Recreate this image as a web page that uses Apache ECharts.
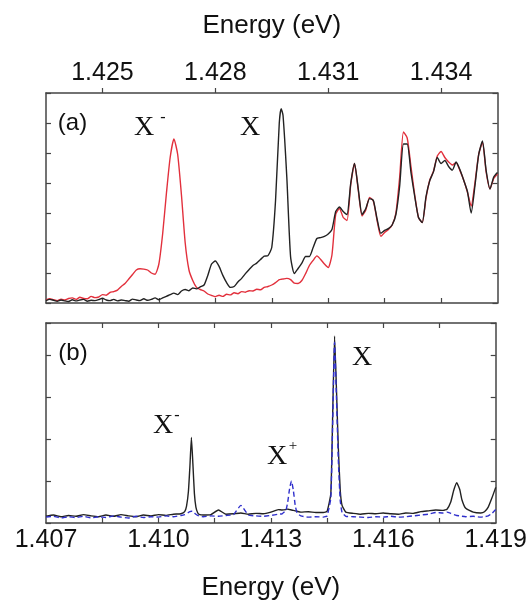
<!DOCTYPE html>
<html>
<head>
<meta charset="utf-8">
<script src="https://cdn.jsdelivr.net/npm/echarts@6/dist/echarts.min.js"></script>
<style>
  html, body { margin: 0; padding: 0; background: #ffffff; }
  #chart { width: 530px; height: 602px; }
</style>
</head>
<body>
<div id="chart"></div>
<script>
// Panel (a): photoluminescence excitation spectra, energy in eV (top axis)
const energyA = [
  1.4235,1.4236,1.4237,1.4238,1.4239,
  1.4240,1.4241,1.4242,1.4243,1.4244,1.4245,1.4246,1.4247,1.4248,1.4249,
  1.4250,1.4251,1.4252,1.4253,1.4254,1.4255,1.4256,1.4257,1.4258,1.4259,
  1.4260,1.4261,1.4262,1.4263,1.4264,1.4265,1.4266,1.4267,1.4268,1.4269,
  1.4270,1.4271,1.4272,1.4273,1.4274,1.4275,1.4276,1.4277,1.4278,1.4279,
  1.4280,1.4281,1.4282,1.4283,1.4284,1.4285,1.4286,1.4287,1.4288,1.4289,
  1.4290,1.4291,1.4292,1.4293,1.4294,1.4295,1.4296,1.4297,1.42975,1.4298,1.4299,
  1.4300,1.4301,1.4302,1.4303,1.4304,1.4305,1.4306,1.4307,1.4308,1.4309,
  1.4310,1.4311,1.4312,1.4313,1.4314,1.4315,1.4316,1.4317,1.4318,1.4319,
  1.4320,1.4321,1.4322,1.4323,1.4324,1.4325,1.4326,1.4327,1.4328,1.4329,
  1.4330,1.4331,1.4332,1.4333,1.4334,1.4335,1.4336,1.4337,1.4338,1.4339,
  1.4340,1.4341,1.4342,1.4343,1.4344,1.4345,1.4346,1.4347,1.4348,1.4349,
  1.4350,1.4351,1.4352,1.4353,1.4354,1.4355
];
const blackA = [
  0.08,0.12,0.09,0.06,0.10,
  0.07,0.05,0.11,0.07,0.10,0.12,0.06,0.09,0.08,0.11,
  0.16,0.10,0.08,0.12,0.07,0.10,0.08,0.06,0.13,0.10,
  0.08,0.14,0.09,0.12,0.17,0.11,0.17,0.22,0.28,0.33,
  0.28,0.40,0.45,0.41,0.50,0.47,0.54,0.60,0.92,1.30,
  1.40,1.22,0.92,0.68,0.52,0.55,0.70,0.82,0.98,1.12,
  1.25,1.33,1.45,1.56,1.58,1.85,3.40,6.00,6.48,6.25,4.20,
  1.55,0.98,1.15,1.33,1.55,1.55,1.85,2.15,2.18,2.22,
  2.30,2.45,3.05,3.20,3.05,2.95,4.00,4.65,3.80,2.95,
  3.15,3.48,3.42,2.80,2.32,2.42,2.48,2.60,2.95,3.90,
  5.30,5.30,4.35,3.55,2.85,2.68,3.55,4.08,4.38,4.85,
  4.65,4.75,4.55,4.43,4.70,4.45,4.10,3.72,3.00,3.90,
  4.95,5.40,4.40,3.80,4.20,4.35
];
const redA = [
  0.10,0.14,0.11,0.08,0.13,
  0.10,0.15,0.17,0.12,0.19,0.15,0.14,0.22,0.18,0.20,
  0.28,0.26,0.35,0.38,0.43,0.55,0.65,0.80,0.95,1.10,
  1.14,1.13,1.10,1.00,0.96,1.30,2.30,3.65,4.85,5.47,
  4.95,3.60,2.00,1.10,0.75,0.52,0.45,0.40,0.30,0.25,
  0.21,0.26,0.22,0.29,0.27,0.34,0.31,0.38,0.36,0.41,
  0.40,0.46,0.44,0.52,0.55,0.60,0.68,0.78,0.79,0.80,0.82,
  0.78,0.66,0.65,0.75,0.98,1.25,1.42,1.57,1.45,1.30,
  1.18,1.60,2.95,3.15,2.85,2.75,3.95,4.65,3.75,2.90,
  3.10,3.52,3.40,2.75,2.22,2.35,2.45,2.60,3.00,4.20,
  5.70,5.50,4.55,3.60,2.85,2.68,3.50,4.10,4.40,4.90,
  5.05,4.85,4.70,4.60,4.68,4.42,4.10,3.70,3.23,4.00,
  4.95,5.35,4.35,3.80,4.15,4.30
];

// Panel (b): photoluminescence spectra, energy in eV (bottom axis)
const energyB = [
  1.4070,1.4072,1.4074,1.4076,1.4078,1.4080,1.4082,1.4084,1.4086,1.4088,
  1.4090,1.4092,1.4094,1.4096,1.4098,1.4100,1.4102,1.4104,1.4106,1.4107,
  1.41075,1.4108,1.41084,1.41088,1.41092,1.41096,1.4110,1.41105,1.4111,1.4112,
  1.4114,1.4116,1.4118,1.4120,1.4122,1.4124,1.4126,1.4128,1.4130,1.4132,
  1.4133,1.4134,1.41345,1.4135,1.41355,1.4136,1.41365,1.4137,1.4138,1.4140,
  1.4142,1.4144,1.4145,1.4146,1.41465,1.4147,1.41475,1.4148,1.41485,1.4149,
  1.4150,1.4152,1.4154,1.4156,1.4158,1.4160,1.4162,1.4164,1.4166,1.4168,
  1.4170,1.4172,1.4174,1.4176,1.4177,1.4178,1.41788,1.41796,1.41804,1.4181,
  1.4182,1.4184,1.4186,1.4187,1.4188,1.4189,1.4190
];
const blackB = [
  0.16,0.19,0.15,0.18,0.16,0.20,0.17,0.15,0.19,0.16,
  0.20,0.17,0.15,0.19,0.17,0.20,0.18,0.21,0.22,0.27,
  0.40,0.75,1.35,2.04,1.40,0.70,0.38,0.24,0.20,0.19,
  0.20,0.31,0.21,0.22,0.24,0.21,0.23,0.22,0.26,0.32,
  0.31,0.32,0.33,0.32,0.31,0.30,0.29,0.28,0.26,0.27,
  0.25,0.25,0.28,0.70,2.60,4.46,3.20,1.80,0.80,0.42,
  0.26,0.23,0.21,0.23,0.22,0.24,0.22,0.21,0.24,0.23,
  0.27,0.29,0.31,0.30,0.33,0.50,0.78,0.96,0.80,0.55,
  0.35,0.26,0.24,0.27,0.38,0.60,0.85
];
const blueB = [
  0.14,0.16,0.12,0.15,0.13,0.16,0.12,0.15,0.13,0.17,
  0.14,0.12,0.16,0.13,0.15,0.14,0.17,0.15,0.18,0.20,
  0.22,0.25,0.27,0.28,0.27,0.24,0.21,0.18,0.16,0.15,
  0.17,0.16,0.18,0.20,0.42,0.19,0.17,0.16,0.18,0.21,
  0.22,0.30,0.50,0.82,1.00,0.78,0.42,0.24,0.17,0.14,
  0.15,0.14,0.17,0.60,2.40,4.31,3.00,1.50,0.55,0.25,
  0.16,0.15,0.14,0.13,0.15,0.14,0.16,0.14,0.15,0.17,
  0.19,0.21,0.25,0.24,0.26,0.23,0.20,0.18,0.17,0.16,
  0.15,0.16,0.14,0.15,0.17,0.23,0.32
];

// Tick positions and labels
const topLabelsA = [1.425, 1.428, 1.431, 1.434];
const minorTicksA = [1.425, 1.4265, 1.428, 1.4295, 1.431, 1.4325, 1.434];
const bottomLabelsB = [1.407, 1.410, 1.413, 1.416, 1.419];
const minorTicksB = [1.4085, 1.410, 1.4115, 1.413, 1.4145, 1.416, 1.4175];

const frame = { show: true, onZero: false, lineStyle: { color: '#444444', width: 1.5 } };
const tickStyle = { color: '#444444', width: 1.2 };
const sans = '"Liberation Sans", Arial, sans-serif';
const serif = '"Liberation Serif", "Times New Roman", serif';

function pairs(xs, ys) { return xs.map((x, i) => [x, ys[i]]); }

const chart = echarts.init(document.getElementById('chart'), null, { renderer: 'canvas' });

chart.setOption({
  animation: false,
  backgroundColor: '#ffffff',
  grid: [
    { left: 46, top: 93, width: 451.5, height: 210 },
    { left: 46, top: 323, width: 451.5, height: 207 }
  ],
  xAxis: [
    {
      gridIndex: 0, type: 'value', position: 'top', min: 1.4235, max: 1.4355,
      axisLine: frame,
      axisTick: { show: true, inside: false, length: 5, customValues: topLabelsA, lineStyle: tickStyle },
      axisLabel: { show: true, customValues: topLabelsA, formatter: v => v.toFixed(3),
                   fontFamily: sans, fontSize: 25, color: '#111111', margin: 7 },
      splitLine: { show: false },
      name: 'Energy (eV)', nameLocation: 'middle', nameGap: 54,
      nameTextStyle: { fontFamily: sans, fontSize: 26, color: '#111111' }
    },
    {
      gridIndex: 0, type: 'value', position: 'bottom', min: 1.4235, max: 1.4355,
      axisLine: frame,
      axisTick: { show: true, inside: true, length: 5, customValues: minorTicksA, lineStyle: tickStyle },
      axisLabel: { show: false },
      splitLine: { show: false }
    },
    {
      gridIndex: 1, type: 'value', position: 'top', min: 1.407, max: 1.419,
      axisLine: frame,
      axisTick: { show: true, inside: true, length: 5, customValues: minorTicksB, lineStyle: tickStyle },
      axisLabel: { show: false },
      splitLine: { show: false }
    },
    {
      gridIndex: 1, type: 'value', position: 'bottom', min: 1.407, max: 1.419,
      axisLine: frame,
      axisTick: { show: true, inside: true, length: 5, customValues: minorTicksB, lineStyle: tickStyle },
      axisLabel: { show: true, customValues: bottomLabelsB, formatter: v => v.toFixed(3),
                   fontFamily: sans, fontSize: 25, color: '#111111', margin: 5,
                   showMinLabel: true, showMaxLabel: true },
      splitLine: { show: false },
      name: 'Energy (eV)', nameLocation: 'middle', nameGap: 52,
      nameTextStyle: { fontFamily: sans, fontSize: 26, color: '#111111' }
    }
  ],
  yAxis: [
    { gridIndex: 0, type: 'value', position: 'left', min: 0, max: 7, interval: 1,
      axisLine: frame, axisTick: { show: true, inside: true, length: 5, lineStyle: tickStyle },
      axisLabel: { show: false }, splitLine: { show: false } },
    { gridIndex: 0, type: 'value', position: 'right', min: 0, max: 7, interval: 1,
      axisLine: frame, axisTick: { show: true, inside: true, length: 5, lineStyle: tickStyle },
      axisLabel: { show: false }, splitLine: { show: false } },
    { gridIndex: 1, type: 'value', position: 'left', min: 0, max: 4.77, interval: 1,
      axisLine: frame, axisTick: { show: true, inside: true, length: 5, lineStyle: tickStyle },
      axisLabel: { show: false }, splitLine: { show: false } },
    { gridIndex: 1, type: 'value', position: 'right', min: 0, max: 4.77, interval: 1,
      axisLine: frame, axisTick: { show: true, inside: true, length: 5, lineStyle: tickStyle },
      axisLabel: { show: false }, splitLine: { show: false } }
  ],
  series: [
    { name: 'X- sample', type: 'line', xAxisIndex: 0, yAxisIndex: 0,
      data: pairs(energyA, redA), showSymbol: false, smooth: 0.2,
      lineStyle: { color: '#e2303c', width: 1.4 } },
    { name: 'X sample', type: 'line', xAxisIndex: 0, yAxisIndex: 0,
      data: pairs(energyA, blackA), showSymbol: false, smooth: 0.2,
      lineStyle: { color: '#222222', width: 1.4 } },
    { name: 'PL', type: 'line', xAxisIndex: 3, yAxisIndex: 2,
      data: pairs(energyB, blackB), showSymbol: false, smooth: 0.15,
      lineStyle: { color: '#222222', width: 1.4 } },
    { name: 'PL dashed', type: 'line', xAxisIndex: 3, yAxisIndex: 2,
      data: pairs(energyB, blueB), showSymbol: false, smooth: 0.15,
      lineStyle: { color: '#2f2fcc', width: 1.4, type: [5, 3] } }
  ],
  graphic: [
    { type: 'text', style: { text: '(a)', x: 72.5, y: 123, align: 'center', verticalAlign: 'middle',
      font: '24px ' + sans, fill: '#111111' } },
    { type: 'text', style: { text: '(b)', x: 73, y: 353, align: 'center', verticalAlign: 'middle',
      font: '24px ' + sans, fill: '#111111' } },
    { type: 'text', style: { text: 'X', x: 144, y: 128, align: 'center', verticalAlign: 'middle',
      font: '28px ' + serif, fill: '#111111' } },
    { type: 'text', style: { text: '-', x: 163, y: 118, align: 'center', verticalAlign: 'middle',
      font: '16px ' + serif, fill: '#111111' } },
    { type: 'text', style: { text: 'X', x: 250, y: 128, align: 'center', verticalAlign: 'middle',
      font: '28px ' + serif, fill: '#111111' } },
    { type: 'text', style: { text: 'X', x: 163, y: 426, align: 'center', verticalAlign: 'middle',
      font: '28px ' + serif, fill: '#111111' } },
    { type: 'text', style: { text: '-', x: 177, y: 416, align: 'center', verticalAlign: 'middle',
      font: '16px ' + serif, fill: '#111111' } },
    { type: 'text', style: { text: 'X', x: 277, y: 457, align: 'center', verticalAlign: 'middle',
      font: '28px ' + serif, fill: '#111111' } },
    { type: 'text', style: { text: '+', x: 293, y: 446, align: 'center', verticalAlign: 'middle',
      font: '15px ' + serif, fill: '#111111' } },
    { type: 'text', style: { text: 'X', x: 362, y: 358, align: 'center', verticalAlign: 'middle',
      font: '28px ' + serif, fill: '#111111' } }
  ]
});
</script>
</body>
</html>
